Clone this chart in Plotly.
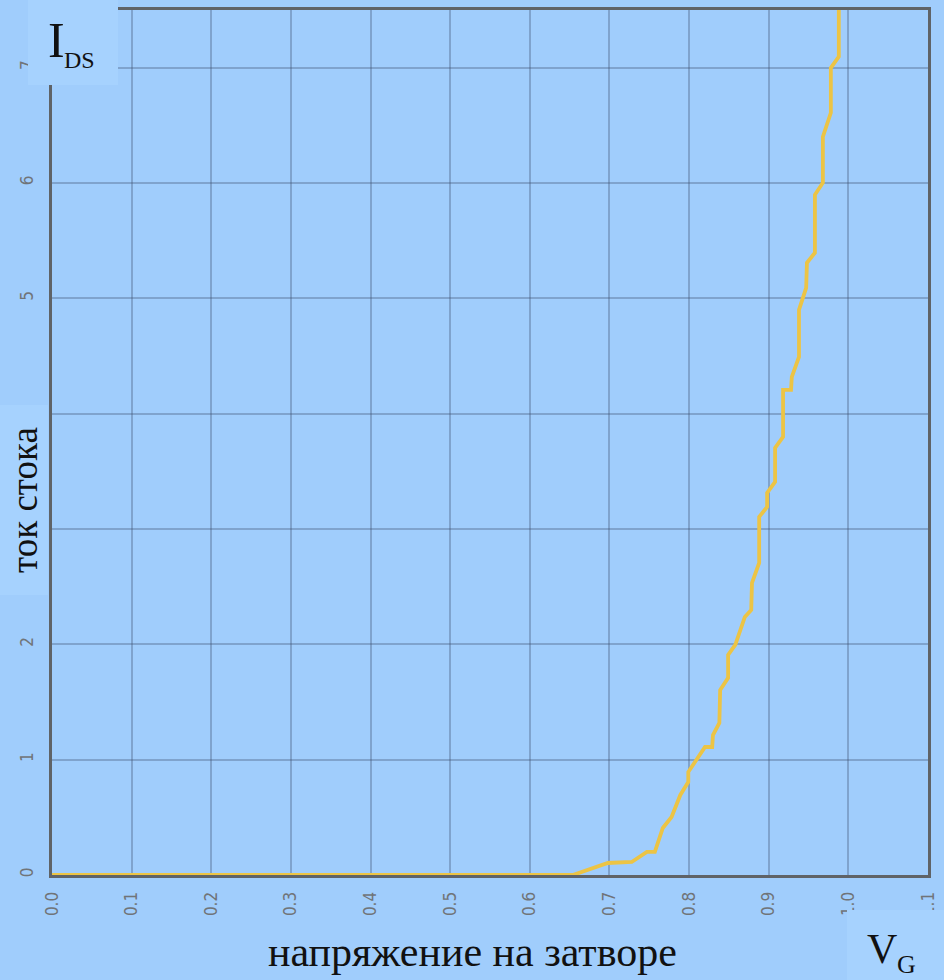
import plotly.graph_objects as go

# Data (gate voltage vs drain current)
vg = [0.0, 0.654, 0.698, 0.728, 0.747, 0.757, 0.767, 0.778, 0.789, 0.799, 0.799,
      0.820, 0.829, 0.830, 0.838, 0.839, 0.849, 0.849, 0.858, 0.864, 0.870, 0.878,
      0.879, 0.888, 0.888, 0.898, 0.898, 0.908, 0.908, 0.918, 0.918, 0.928, 0.929,
      0.938, 0.938, 0.947, 0.948, 0.958, 0.958, 0.968, 0.968, 0.978, 0.978, 0.988, 0.988]
ids = [0.0, 0.0, 0.104, 0.113, 0.200, 0.200, 0.408, 0.503, 0.694, 0.807, 0.893,
       1.110, 1.110, 1.214, 1.318, 1.604, 1.709, 1.908, 1.995, 2.125, 2.238, 2.298,
       2.533, 2.706, 3.105, 3.192, 3.313, 3.408, 3.703, 3.799, 4.206, 4.206, 4.319,
       4.493, 4.900, 5.091, 5.308, 5.395, 5.898, 6.002, 6.401, 6.609, 6.999, 7.095, 7.5]

x_ticks = [0.0, 0.1, 0.2, 0.3, 0.4, 0.5, 0.6, 0.7, 0.8, 0.9, 1.0, 1.1]
x_tick_labels = ["0.0", "0.1", "0.2", "0.3", "0.4", "0.5", "0.6", "0.7", "0.8", "0.9", "1.0", "1.1"]
y_ticks = [0, 1, 2, 3, 4, 5, 6, 7]
y_tick_labels = ["0", "1", "2", "3", "4", "5", "6", "7"]

x_title = "напряжение на затворе"
y_title = "ток стока"

BG = "#a0cdfc"
BOX = "#a6d2fe"
GRID = "rgba(60,80,110,0.33)"
BORDER = "#5f6367"
CURVE = "#ecc445"
SERIF = "Liberation Serif, Times New Roman, serif"
TICKFONT = dict(family="DejaVu Sans Condensed, DejaVu Sans", size=17, color="#707478")

W, H = 944, 980
L, R, T, B = 52, 16, 10, 105
PW, PH = W - L - R, H - T - B


def px(x):
    return (x - L) / PW


def py(y):
    return (H - B - y) / PH


fig = go.Figure()
fig.add_trace(go.Scatter(x=vg, y=ids, mode="lines",
                         line=dict(color=CURVE, width=3.8), hoverinfo="skip"))

fig.update_layout(
    width=W, height=H,
    margin=dict(l=L, r=R, t=T, b=B, autoexpand=False),
    paper_bgcolor=BG, plot_bgcolor=BG,
    showlegend=False,
    xaxis=dict(range=[0, 1.1], tickvals=x_ticks, ticktext=x_tick_labels,
               tickangle=-90, showgrid=True, gridcolor=GRID, gridwidth=1.5,
               showline=True, linecolor=BORDER, linewidth=3, mirror=True,
               zeroline=False, ticks="", ticklabelstandoff=7, automargin=False,
               tickfont=TICKFONT),
    yaxis=dict(range=[0, 7.5], tickvals=y_ticks, ticktext=y_tick_labels,
               tickangle=-90, showgrid=True, gridcolor=GRID, gridwidth=1.5,
               showline=True, linecolor=BORDER, linewidth=3, mirror=True,
               zeroline=False, ticks="", ticklabelstandoff=9, automargin=False,
               tickfont=TICKFONT),
)

shapes = [
    # box behind I_DS label
    dict(type="rect", xref="paper", yref="paper", layer="above",
         x0=px(28), x1=px(118), y0=py(85), y1=py(-2),
         fillcolor=BOX, line=dict(width=0)),
    # box behind y title
    dict(type="rect", xref="paper", yref="paper", layer="above",
         x0=px(-2), x1=px(48), y0=py(595), y1=py(405),
         fillcolor=BOX, line=dict(width=0)),
    # box behind V_G label
    dict(type="rect", xref="paper", yref="paper", layer="above",
         x0=px(847), x1=px(946), y0=py(985), y1=py(910),
         fillcolor=BOX, line=dict(width=0)),
]
fig.update_layout(shapes=shapes)

annotations = [
    dict(text="I", xref="paper", yref="paper", x=px(56), y=py(40),
         xanchor="center", yanchor="middle", showarrow=False,
         font=dict(family=SERIF, size=50, color="#111")),
    dict(text="DS", xref="paper", yref="paper", x=px(79), y=py(60),
         xanchor="center", yanchor="middle", showarrow=False,
         font=dict(family=SERIF, size=24, color="#111")),
    dict(text=y_title, xref="paper", yref="paper", x=px(24), y=py(500),
         xanchor="center", yanchor="middle", showarrow=False, textangle=-90,
         font=dict(family=SERIF, size=37, color="#111")),
    dict(text=x_title, xref="paper", yref="paper", x=px(472), y=py(952),
         xanchor="center", yanchor="middle", showarrow=False,
         font=dict(family=SERIF, size=42, color="#111")),
    dict(text="V", xref="paper", yref="paper", x=px(882), y=py(949),
         xanchor="center", yanchor="middle", showarrow=False,
         font=dict(family=SERIF, size=42, color="#111")),
    dict(text="G", xref="paper", yref="paper", x=px(906), y=py(964),
         xanchor="center", yanchor="middle", showarrow=False,
         font=dict(family=SERIF, size=26, color="#111")),
]
fig.update_layout(annotations=annotations)

fig.write_html("out.html",
               config={"displayModeBar": False},
               post_script="document.body.style.margin='0';"
                           "document.body.style.background='" + BG + "';")
